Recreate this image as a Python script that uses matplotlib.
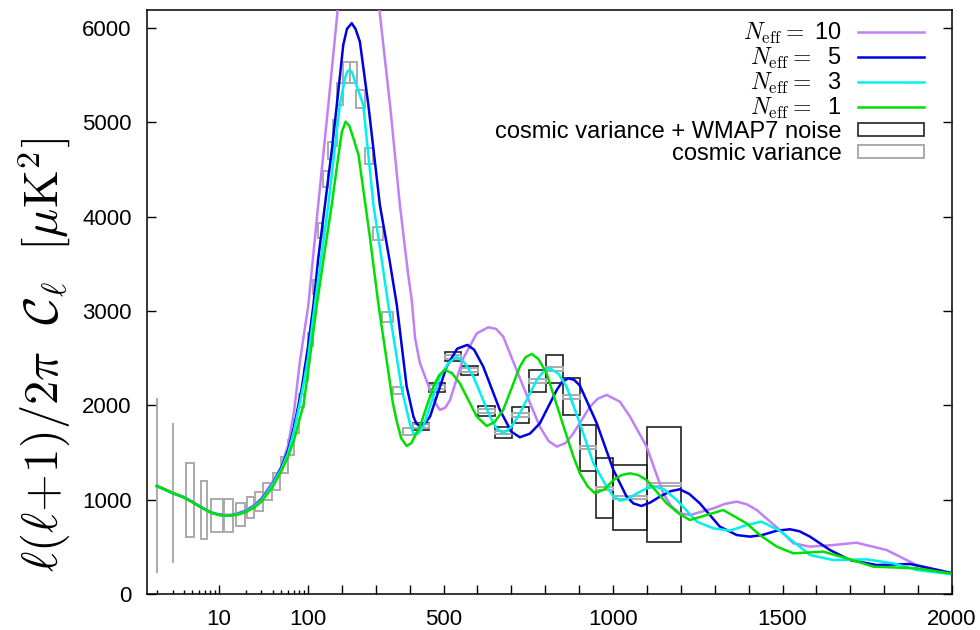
import matplotlib
matplotlib.use("Agg")
import matplotlib.pyplot as plt
import numpy as np
from matplotlib.patches import Rectangle
from matplotlib.lines import Line2D
from matplotlib.ticker import FixedLocator, NullFormatter

plt.rcParams['font.family'] = ['Liberation Sans', 'DejaVu Sans']
plt.rcParams['mathtext.fontset'] = 'cm'

# spectra: ell, l(l+1)C_l/2pi [muK^2]
ell_10 = [2, 3, 4, 5, 6, 8, 10, 13, 16, 20, 25, 30, 40, 50, 60, 70, 81, 101, 130, 160, 189, 215, 240,
          260, 285, 309, 342, 371, 395, 406, 416, 430, 460, 475, 489, 505, 519, 558, 598, 632, 655, 676,
          735, 784, 810, 834, 860, 883, 932, 955, 981, 1020, 1050, 1099, 1148, 1170, 1197, 1227, 1296,
          1330, 1365, 1395, 1424, 1492, 1532, 1581, 1650, 1718, 1807, 1896, 1994]
cl_10 = [1150, 1075, 1030, 980, 935, 870, 845, 838, 855, 888, 945, 1015, 1190, 1350, 1580, 1950, 2463,
         3063, 4124, 5184, 6244, 6900, 7150, 7100, 6800, 6244, 5184, 4124, 3400, 3117, 2710, 2450,
         2163, 2030, 1951, 1975, 2057, 2498, 2763, 2827, 2810, 2728, 2198, 1774, 1620, 1562, 1600,
         1703, 1986, 2070, 2110, 2039, 1880, 1562, 1067, 940, 855, 837, 908, 955, 979, 950, 890, 678,
         537, 502, 519, 544, 466, 307, 226]

ell_5 = [2, 3, 4, 5, 6, 8, 10, 13, 16, 20, 25, 30, 40, 50, 60, 70, 85, 100, 116, 130, 150, 170, 185,
         204, 215, 229, 240, 253, 278, 312, 340, 362, 391, 411, 420, 430, 445, 460, 509, 540, 570, 590,
         617, 666, 700, 725, 755, 784, 834, 850, 868, 885, 902, 952, 1001, 1040, 1060, 1084, 1110, 1138,
         1170, 1197, 1225, 1256, 1315, 1365, 1404, 1440, 1483, 1522, 1550, 1581, 1640, 1699, 1778, 1876,
         1994]
cl_5 = [1145, 1070, 1025, 975, 930, 865, 838, 830, 846, 876, 932, 1000, 1165, 1335, 1530, 1780, 2180,
        2620, 3063, 3550, 4124, 4700, 5184, 5820, 5990, 6050, 5990, 5855, 5184, 4124, 3550, 3063, 2200,
        1880, 1805, 1781, 1810, 1880, 2410, 2600, 2640, 2590, 2410, 1951, 1720, 1661, 1700, 1809, 2163,
        2250, 2286, 2270, 2210, 1809, 1314, 1032, 960, 933, 970, 1032, 1090, 1110, 1060, 961, 714, 625,
        608, 625, 671, 686, 665, 608, 466, 360, 307, 318, 226]

ell_3 = [2, 3, 4, 5, 6, 8, 10, 13, 16, 20, 25, 30, 40, 50, 60, 70, 80, 90, 100, 120, 140, 160, 180,
         194, 209, 215, 222, 230, 239, 263, 293, 315, 337, 360, 376, 401, 411, 425, 440, 489, 515, 539,
         562, 588, 637, 655, 676, 700, 725, 775, 795, 814, 840, 863, 902, 942, 981, 1000, 1020, 1045,
         1070, 1100, 1124, 1150, 1188, 1247, 1296, 1345, 1394, 1438, 1492, 1581, 1650, 1748, 1827, 1896,
         1994]
cl_3 = [1145, 1070, 1025, 975, 930, 865, 838, 830, 845, 874, 928, 992, 1160, 1320, 1500, 1740, 2000,
        2250, 2500, 3063, 3600, 4124, 4750, 5184, 5466, 5530, 5555, 5530, 5431, 5184, 4124, 3600, 3063,
        2550, 2180, 1800, 1700, 1700, 1774, 2304, 2450, 2516, 2450, 2304, 1880, 1760, 1703, 1770, 1915,
        2269, 2360, 2392, 2330, 2198, 1809, 1385, 1138, 1040, 989, 1010, 1067, 1120, 1138, 1110, 996,
        767, 696, 671, 731, 767, 670, 413, 360, 367, 325, 254, 212]

ell_1 = [2, 3, 4, 5, 6, 8, 10, 13, 16, 20, 25, 30, 40, 50, 60, 70, 81, 89, 100, 126, 150, 170, 190,
         200, 211, 222, 234, 249, 283, 308, 337, 350, 362, 375, 391, 405, 430, 470, 487, 504, 525, 548,
         598, 627, 650, 676, 725, 742, 760, 780, 804, 848, 883, 902, 925, 947, 975, 1001, 1025, 1050,
         1075, 1099, 1158, 1195, 1227, 1276, 1325, 1394, 1433, 1483, 1532, 1620, 1689, 1768, 1896, 1994]
cl_1 = [1145, 1070, 1025, 975, 930, 865, 838, 828, 840, 868, 918, 980, 1135, 1300, 1460, 1640, 1866,
        2003, 2350, 3063, 3650, 4124, 4654, 4900, 5007, 4960, 4830, 4654, 3770, 3063, 2357, 2030, 1827,
        1650, 1569, 1600, 1774, 2198, 2320, 2375, 2340, 2233, 1880, 1781, 1820, 1951, 2410, 2510, 2544,
        2490, 2339, 1844, 1456, 1279, 1140, 1067, 1110, 1208, 1260, 1279, 1260, 1208, 961, 850, 784,
        837, 890, 749, 625, 502, 431, 449, 378, 290, 272, 219]

# binned errors: ell range, fiducial, cosmic-variance half height, cv+WMAP7 half height (0 = not drawn)
bin_lo = [2, 3, 4.2, 6.2, 8.2, 11.3, 15.7, 20.6, 25.5, 31.4, 40, 50, 60, 70, 80, 90, 100, 115, 130,
          145, 160, 175, 185, 202, 224, 242, 268, 291, 317, 350, 381, 410, 457, 503, 552, 601, 651,
          701, 751, 801, 851, 902, 951, 1001, 1100]
bin_hi = [2, 3, 5.2, 7.4, 11.0, 14.2, 19.8, 24.9, 31.0, 39.5, 49, 59, 69, 79, 89, 99, 115, 130, 145,
          160, 175, 185, 202, 224, 244, 268, 291, 320, 350, 381, 410, 457, 503, 552, 601, 651, 701,
          751, 801, 851, 902, 951, 1001, 1100, 1200]
bin_cl = [1150, 1071, 993, 892, 835, 832, 846, 914, 980, 1085, 1191, 1370, 1550, 1780, 2050, 2330,
          2700, 3250, 3850, 4400, 4700, 4884, 5299, 5525, 5525, 5246, 4640, 3824, 2936, 2157, 1724,
          1777, 2190, 2516, 2371, 1940, 1712, 1894, 2260, 2387, 2092, 1550, 1120, 1023, 1161]
cv_err = [927, 742, 392, 309, 175, 172, 122, 112, 98, 88, 88, 85, 80, 75, 70, 70, 70, 75, 80, 85, 90,
          140, 115, 111, 111, 97, 85, 70, 50, 40, 38, 20, 22, 22, 22, 22, 20, 20, 20, 20, 20, 15, 15, 15, 15]
noise_err = [0] * 31 + [38, 44, 46, 49, 53, 61, 84, 114, 146, 194, 242, 318, 345, 613]

fig = plt.figure(figsize=(9.8, 6.3), dpi=100)
ax = fig.add_axes([147 / 980, 36 / 630, 805 / 980, 584 / 630])

# gnuplot-like axis: log below 100, linear above
K = 262.5


def fwd(x):
    x = np.asarray(x, dtype=float)
    xs = np.clip(x, 1e-3, None)
    return np.where(x < 100, K * np.log10(xs / 100.0), x - 100.0)


def inv(y):
    y = np.asarray(y, dtype=float)
    return np.where(y < 0, 100.0 * 10 ** (np.clip(y, -5000, 0) / K), y + 100.0)


ax.set_xscale('function', functions=(fwd, inv))

for lo, hi, c, e1, e2 in zip(bin_lo, bin_hi, bin_cl, cv_err, noise_err):
    if e2 > 0:
        ax.add_patch(Rectangle((lo, c - e2), hi - lo, 2 * e2, fill=False,
                               edgecolor='#222222', lw=1.2, zorder=2))
for lo, hi, c, e1 in zip(bin_lo, bin_hi, bin_cl, cv_err):
    ax.add_patch(Rectangle((lo, c - e1), hi - lo, 2 * e1, fill=False,
                           edgecolor='#aaaaaa', lw=1.4, zorder=2.5))

ax.plot(ell_10, cl_10, color='#c080f8', lw=1.8, zorder=3)
ax.plot(ell_5, cl_5, color='#0000e0', lw=1.8, zorder=3)
ax.plot(ell_3, cl_3, color='#00f0f0', lw=1.8, zorder=3)
ax.plot(ell_1, cl_1, color='#00e000', lw=1.8, zorder=3)

ax.set_xlim(1.55, 2000)
ax.set_ylim(0, 6190)

major = [10, 100] + list(range(200, 2001, 100))
ax.xaxis.set_major_locator(FixedLocator(major))
ax.set_xticklabels(['10' if t == 10 else '100' if t == 100 else str(t) if t % 500 == 0 else ''
                    for t in major])
ax.xaxis.set_minor_locator(FixedLocator([2, 3, 4, 5, 6, 7, 8, 9, 20, 30, 40, 50, 60, 70, 80, 90]))
ax.xaxis.set_minor_formatter(NullFormatter())
ax.set_yticks(range(0, 6001, 1000))

ax.tick_params(axis='both', which='major', direction='in', length=6.5, width=1.0,
               labelsize=16, pad=11)
ax.tick_params(axis='x', which='minor', direction='in', length=3, width=1.0)
ax.tick_params(axis='y', right=True, labelright=False)
for s in ax.spines.values():
    s.set_linewidth(1.1)

ax.set_ylabel(r'$\ell(\ell\!+\!1)/2\pi\ \ \mathcal{C}_\ell\ \ [\mu\mathrm{K}^2]$', fontsize=35)
ax.yaxis.set_label_coords(-0.092, 0.41)

handles = [Line2D([], [], color='#c080f8', lw=1.8), Line2D([], [], color='#0000e0', lw=1.8),
           Line2D([], [], color='#00f0f0', lw=1.8), Line2D([], [], color='#00e000', lw=1.8),
           Rectangle((0, 0), 1, 1, fill=False, edgecolor='#222222', lw=1.2),
           Rectangle((0, 0), 1, 1, fill=False, edgecolor='#aaaaaa', lw=1.4)]
labels = [r'$N_{\rm eff} =$ 10', r'$N_{\rm eff} =$  5', r'$N_{\rm eff} =$  3', r'$N_{\rm eff} =$  1',
          'cosmic variance + WMAP7 noise', 'cosmic variance']
ax.legend(handles, labels, loc='upper right', bbox_to_anchor=(0.986, 1.01), frameon=False,
          markerfirst=False, fontsize=17, labelspacing=0.0, handlelength=2.8, handleheight=0.5,
          handletextpad=0.7, borderpad=0.2)

fig.savefig('out.png', dpi=100)
